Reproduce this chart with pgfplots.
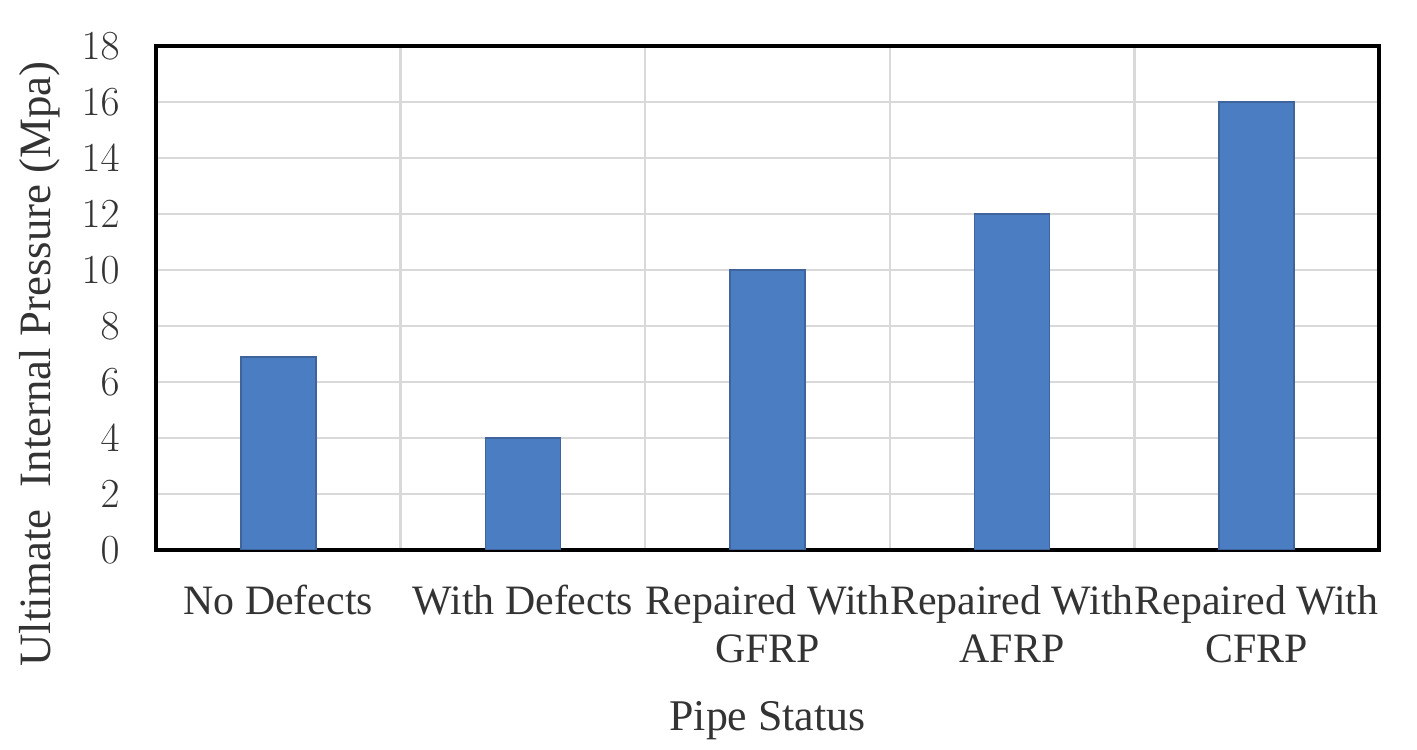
\documentclass[border=0pt]{standalone}
\usepackage{fontspec}
\setmainfont{Liberation Serif}
\usepackage{pgfplots}
\pgfplotsset{compat=1.18}
\definecolor{barblue}{HTML}{4A7DC1}
\definecolor{baredge}{HTML}{3F639B}
\definecolor{gridgray}{HTML}{D9D9D9}
\definecolor{txt}{HTML}{333333}
\begin{document}
\begin{tikzpicture}
\path[use as bounding box] (0,0) rectangle (708.5bp,375bp);
\begin{axis}[
  at={(78bp,100bp)}, anchor=south west,
  scale only axis, width=611.5bp, height=252bp,
  xmin=-0.5, xmax=4.5, ymin=0, ymax=18,
  enlargelimits=false,
  ytick={0,2,...,18},
  xtick={0,...,4},
  xticklabels={No Defects, With Defects, {Repaired With\\GFRP}, {Repaired With\\AFRP}, {Repaired With\\CFRP}},
  minor xtick={0.5,1.5,2.5,3.5},
  xminorgrids, ymajorgrids,
  grid style={gridgray, line width=1.2bp},
  minor grid style={gridgray, line width=1.2bp},
  major tick length=0pt, minor tick length=0pt,
  axis line style={black, line width=2.2bp},
  tick label style={text=txt},
  yticklabel style={font=\fontsize{20.5}{24}\selectfont, inner sep=0pt, xshift=-18bp},
  xticklabel style={font=\fontsize{21}{24}\selectfont, align=center, inner sep=0pt, yshift=-17.5bp},
  ylabel={Ultimate\ \ Internal Pressure (Mpa)},
  ylabel style={at={([xshift=-58bp,yshift=-33bp]axis description cs:0,0.5)}, anchor=center, text=txt, font=\fontsize{22.5}{26}\selectfont},
  xlabel={Pipe Status},
  xlabel style={at={([yshift=-90bp]axis description cs:0.5,0)}, anchor=base, text=txt, font=\fontsize{22}{26}\selectfont},
]
\addplot[ybar, bar width=0.307, fill=barblue, draw=baredge, line width=0.8bp] coordinates {(0,6.9) (1,4) (2,10) (3,12) (4,16)};
\end{axis}
\end{tikzpicture}
\end{document}
